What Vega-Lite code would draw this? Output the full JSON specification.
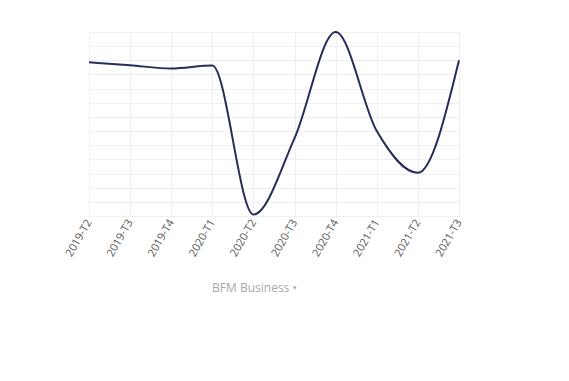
{
  "$schema": "https://vega.github.io/schema/vega-lite/v6.json",
  "width": 370,
  "height": 184,
  "autosize": "none",
  "padding": {"left": 89, "top": 32, "right": 110, "bottom": 165},
  "background": "white",
  "config": {"view": {"stroke": null}, "font": "Open Sans"},
  "data": {
    "values": [
      {"periode": "2019-T2", "valeur": 10.86},
      {"periode": "2019-T3", "valeur": 10.65},
      {"periode": "2019-T4", "valeur": 10.42},
      {"periode": "2020-T1", "valeur": 10.63},
      {"periode": "2020-T2", "valeur": 0.1},
      {"periode": "2020-T3", "valeur": 5.5},
      {"periode": "2020-T4", "valeur": 13.0},
      {"periode": "2021-T1", "valeur": 6.0},
      {"periode": "2021-T2", "valeur": 3.05},
      {"periode": "2021-T3", "valeur": 11.0}
    ]
  },
  "mark": {"type": "line", "interpolate": "monotone", "color": "#272c5b", "strokeWidth": 2},
  "encoding": {
    "x": {
      "field": "periode",
      "type": "ordinal",
      "sort": null,
      "scale": {"type": "point", "padding": 0},
      "axis": {
        "title": "BFM Business •",
        "titleColor": "#a8a8a8",
        "titleFontSize": 12,
        "titleFontWeight": "normal",
        "titleX": 165,
        "titleY": 71,
        "titleBaseline": "middle",
        "labelAngle": -60,
        "labelAlign": "right",
        "labelBaseline": "middle",
        "labelPadding": 4,
        "labelFontSize": 11,
        "labelColor": "#555555",
        "ticks": false,
        "domain": false,
        "grid": true,
        "gridColor": "#efefef",
        "gridWidth": 1
      }
    },
    "y": {
      "field": "valeur",
      "type": "quantitative",
      "scale": {"domain": [0, 13], "nice": false, "zero": false},
      "axis": {
        "title": null,
        "labels": false,
        "ticks": false,
        "domain": false,
        "grid": true,
        "gridColor": "#efefef",
        "values": [0, 1, 2, 3, 4, 5, 6, 7, 8, 9, 10, 11, 12, 13]
      }
    }
  }
}
